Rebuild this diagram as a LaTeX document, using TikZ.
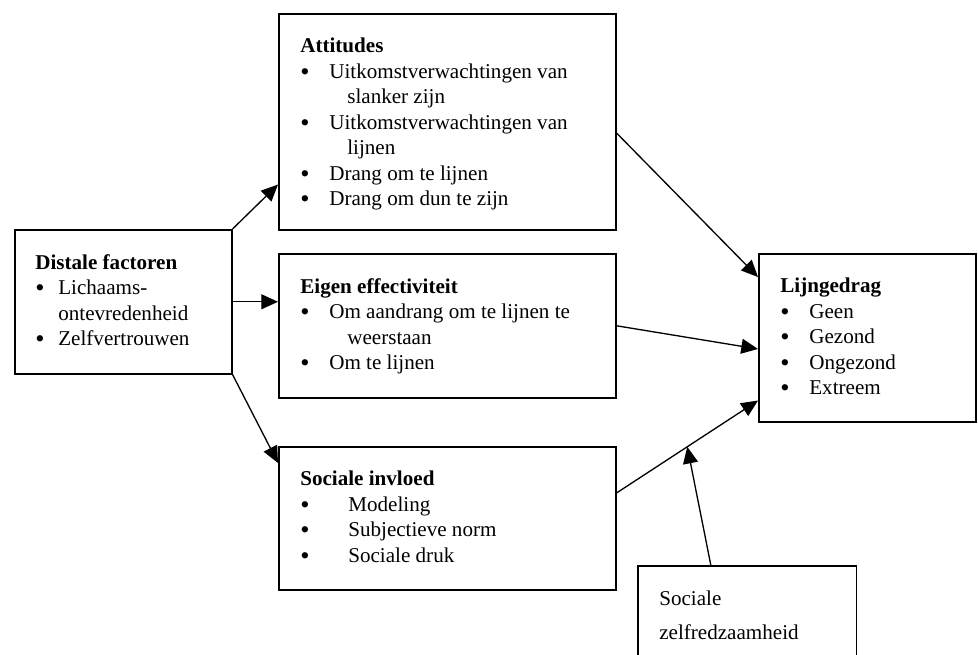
\documentclass[tikz,border=0pt]{standalone}
\usepackage{fontspec}
\setmainfont{Liberation Serif}
\usetikzlibrary{arrows.meta}
\newlength{\pxu}\setlength{\pxu}{0.02cm}
\newcommand{\itm}[2][29]{\makebox[#1\pxu][l]{\raisebox{-1.1pt}{\fontsize{15pt}{0pt}\selectfont\textbullet}}#2}
\newcommand{\cnt}[2][47]{\hspace*{#1\pxu}#2}
\begin{document}
\begin{tikzpicture}[x=0.02cm, y=-0.02cm, >={Triangle[length=9.5pt,width=8.5pt]},
  box/.style={draw, line width=0.9pt, inner sep=0pt, anchor=north west},
  txt/.style={anchor=north west, inner sep=0pt, align=left, font=\fontsize{12pt}{14.5pt}\selectfont},
  arr/.style={->, line width=0.75pt}]
\useasboundingbox (0,0) rectangle (978,655);
% boxes
\node[box, minimum width=4.34cm, minimum height=2.88cm] (dist) at (14,229) {};
\node[box, minimum width=6.74cm, minimum height=4.32cm] (att) at (278,13) {};
\node[box, minimum width=6.74cm, minimum height=2.88cm] (eig) at (278,253) {};
\node[box, minimum width=6.74cm, minimum height=2.86cm] (soc) at (278,446) {};
\node[box, minimum width=4.34cm, minimum height=3.36cm] (lijn) at (758,253) {};
\node[box, draw=none, minimum width=4.34cm, minimum height=1.8cm] (zelf) at (638,566) {};
\draw[line width=0.9pt] (zelf.south west) -- (zelf.north west) -- (zelf.north east) -- (zelf.south east);
% texts
\node[txt] (distT) at ([shift={(21,25)}]dist.north west) {\textbf{Distale factoren}\\ \itm[23]{Lichaams-}\\ \cnt[23]{ontevredenheid}\\ \itm[23]{Zelfvertrouwen}};
\node[txt] (attT) at ([shift={(22,25)}]att.north west) {\textbf{Attitudes}\\ \itm{Uitkomstverwachtingen van}\\ \cnt{slanker zijn}\\ \itm{Uitkomstverwachtingen van}\\ \cnt{lijnen}\\ \itm{Drang om te lijnen}\\ \itm{Drang om dun te zijn}};
\node[txt] (eigT) at ([shift={(22,25)}]eig.north west) {\textbf{Eigen effectiviteit}\\ \itm{Om aandrang om te lijnen te}\\ \cnt{weerstaan}\\ \itm{Om te lijnen}};
\node[txt] (socT) at ([shift={(22,25)}]soc.north west) {\textbf{Sociale invloed}\\ \itm[48]{Modeling}\\ \itm[48]{Subjectieve norm}\\ \itm[48]{Sociale druk}};
\node[txt] (lijnT) at ([shift={(22,25)}]lijn.north west) {\textbf{Lijngedrag}\\ \itm{Geen}\\ \itm{Gezond}\\ \itm{Ongezond}\\ \itm{Extreem}};
\node[txt, font=\fontsize{12pt}{19.3pt}\selectfont] (zelfT) at ([shift={(21,25)}]zelf.north west) {Sociale\\ zelfredzaamheid};
% arrows
\draw[arr] (dist.north east) -- ([shift={(0,-46)}]att.south west);
\draw[arr] (dist.east) -- (dist.east -| eig.west);
\draw[arr] (dist.south east) -- ([shift={(0,17)}]soc.north west);
\draw[arr] ([shift={(0,120)}]att.north east) -- ([shift={(0,24)}]lijn.north west);
\draw[arr] (eig.east) -- ([shift={(0,96)}]lijn.north west);
\draw[arr] ([shift={(0,47)}]soc.north east) -- ([shift={(0,-22)}]lijn.south west) coordinate[pos=0.5] (join);
\draw[arr] ([shift={(73,0)}]zelf.north west) -- (join);
\end{tikzpicture}
\end{document}
